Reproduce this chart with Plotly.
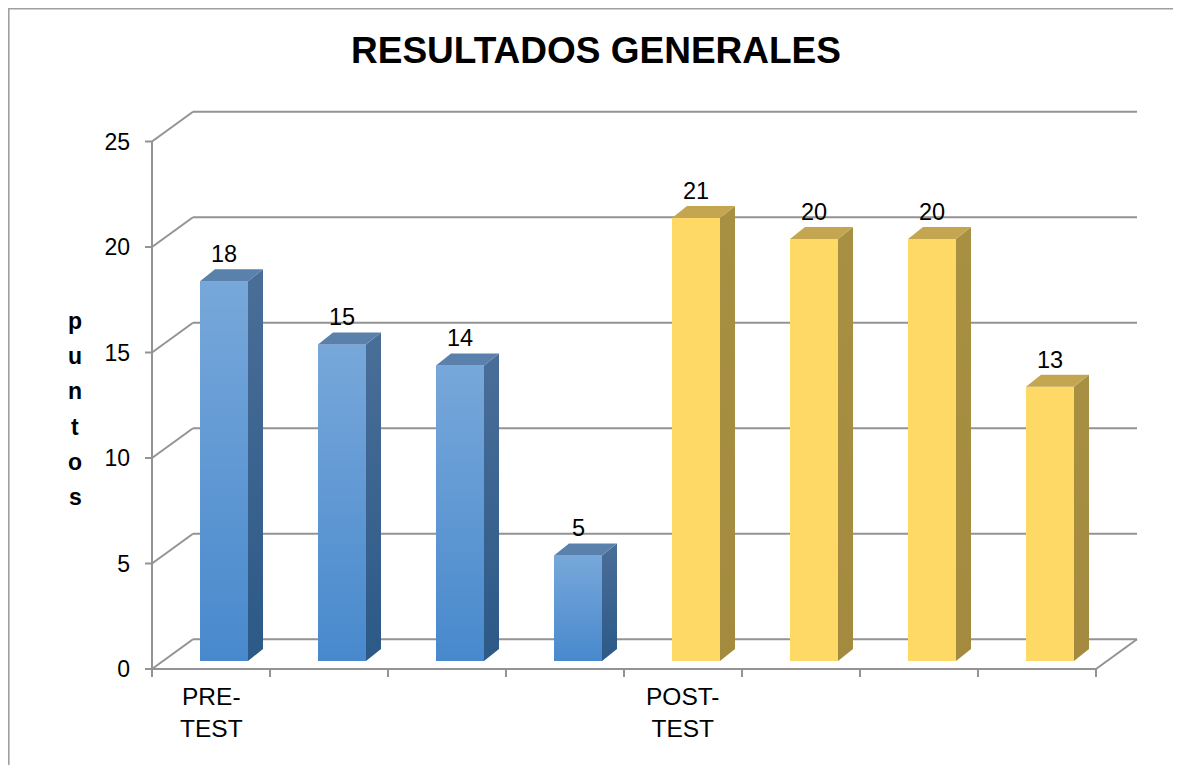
import plotly.graph_objects as go

# ---------------- data ----------------
group_labels = ["PRE-<br>TEST", "POST-<br>TEST"]
pre_values = [18, 15, 14, 5]
post_values = [21, 20, 20, 13]
y_ticks = [0, 5, 10, 15, 20, 25]
title_text = "RESULTADOS GENERALES"
y_title = "puntos"

values = pre_values + post_values
groups = [0] * len(pre_values) + [1] * len(post_values)
xs = list(range(len(values)))

# ---------------- styling / geometry ----------------
W, H = 1173, 757      # page adds an 8px body margin
OFF = 8
PL = 125              # left margin (figure px)
PX_X = 118.0          # pixels per category
PX_Y = 21.1           # pixels per point
BAR_W = 48 / PX_X
DEPTH_DX = 15 / PX_X
DEPTH_DY = 12 / PX_Y
FRONT_DX = -13 / PX_X
FRONT_DY = -8 / PX_Y
BACK_DX = 28 / PX_X
BACK_DY = 21.7 / PX_Y
FONT = "Arial, 'Liberation Sans', sans-serif"

front_col = ["#4889CD", "#FED966"]
front_grad = [
    [[0, "rgba(255,255,255,0)"], [1, "rgba(255,255,255,0.26)"]],
    [[0, "rgba(255,255,255,0)"], [1, "rgba(255,255,255,0.0)"]],
]
side_grad = [
    [[0, "#2C5987"], [1, "#4A6E98"]],
    [[0, "#A38A3E"], [1, "#A89043"]],
]
top_col = ["#5A80AC", "#C4A650"]
GRID = "#939393"

n = len(values)
fig = go.Figure()

# front faces (bars)
for g in (0, 1):
    idx = [i for i in xs if groups[i] == g]
    fig.add_trace(go.Bar(
        x=[xs[i] for i in idx], y=[values[i] for i in idx],
        width=BAR_W, marker=dict(color=front_col[g], line=dict(width=0)),
        hoverinfo="skip", showlegend=False,
    ))

# gradient overlays, side and top faces computed from the values
for i, v in enumerate(values):
    g = groups[i]
    xl = xs[i] - BAR_W / 2
    xr = xs[i] + BAR_W / 2
    fig.add_trace(go.Scatter(
        x=[xl, xr, xr, xl, xl], y=[0, 0, v, v, 0], mode="lines",
        line=dict(width=0), fill="toself",
        fillgradient=dict(type="vertical", colorscale=front_grad[g], start=0, stop=v),
        hoverinfo="skip", showlegend=False,
    ))
    fig.add_trace(go.Scatter(
        x=[xr, xr + DEPTH_DX, xr + DEPTH_DX, xr, xr],
        y=[0, DEPTH_DY, v + DEPTH_DY, v, 0], mode="lines",
        line=dict(width=0), fill="toself",
        fillgradient=dict(type="vertical", colorscale=side_grad[g], start=0, stop=v + DEPTH_DY),
        hoverinfo="skip", showlegend=False,
    ))
    fig.add_trace(go.Scatter(
        x=[xl, xr, xr + DEPTH_DX, xl + DEPTH_DX, xl],
        y=[v, v, v + DEPTH_DY, v + DEPTH_DY, v], mode="lines",
        line=dict(width=0), fill="toself", fillcolor=top_col[g],
        hoverinfo="skip", showlegend=False,
    ))

# ---------------- walls, gridlines, ticks ----------------
fl = -0.5 + FRONT_DX
fr = n - 0.5 + FRONT_DX
bl = -0.5 + BACK_DX
br = n - 0.5 + BACK_DX
shapes = []
for t in y_ticks:
    yf = t + FRONT_DY
    yb = t + BACK_DY
    shapes.append(dict(type="line", x0=bl, x1=br, y0=yb, y1=yb))
    shapes.append(dict(type="line", x0=fl, x1=bl, y0=yf, y1=yb))
    shapes.append(dict(type="line", x0=fl - 7 / PX_X, x1=fl, y0=yf, y1=yf))
shapes.append(dict(type="line", x0=fl, x1=fr, y0=FRONT_DY, y1=FRONT_DY))
shapes.append(dict(type="line", x0=fr, x1=br, y0=FRONT_DY, y1=BACK_DY))
shapes.append(dict(type="line", x0=fl, x1=fl, y0=FRONT_DY, y1=y_ticks[-1] + FRONT_DY))
for k in range(n + 1):
    xk = -0.5 + k + FRONT_DX
    shapes.append(dict(type="line", x0=xk, x1=xk, y0=FRONT_DY, y1=FRONT_DY - 8 / PX_Y))
for s in shapes:
    s.update(xref="x", yref="y", layer="below", line=dict(color=GRID, width=2))

PW = W - PL
shapes.append(dict(type="rect", xref="paper", yref="paper",
                   x0=(0.8 - PL) / PW, x1=1.05, y0=-0.05, y1=1 - 0.8 / H,
                   line=dict(color="#A0A0A0", width=1.6), layer="below"))

# ---------------- annotations ----------------
ann = []
for i, v in enumerate(values):
    ann.append(dict(x=xs[i], y=v + DEPTH_DY + 0.72, text=str(v), showarrow=False,
                    xanchor="center", yanchor="middle",
                    font=dict(family=FONT, size=23.5, color="#000000")))
for g, lab in enumerate(group_labels):
    first = groups.index(g)
    ann.append(dict(x=xs[first] + FRONT_DX, y=FRONT_DY - 12 / PX_Y, text=lab,
                    showarrow=False, xanchor="center", yanchor="top",
                    font=dict(family=FONT, size=24.5, color="#000000")))
for k, ch in enumerate(y_title):
    sy = 321 + 35.2 * k
    ann.append(dict(xref="paper", yref="paper", x=(75 - OFF - PL) / PW,
                    y=1 - (sy - OFF) / H, text="<b>%s</b>" % ch,
                    showarrow=False, xanchor="center", yanchor="middle",
                    font=dict(family=FONT, size=23, color="#000000")))

x0 = -(224 - OFF - PL) / PX_X
x1 = x0 + PW / PX_X
y1 = (661 - OFF) / PX_Y
y0 = y1 - H / PX_Y

fig.update_layout(
    width=W, height=H,
    margin=dict(l=PL, r=0, t=0, b=0),
    paper_bgcolor="white", plot_bgcolor="white",
    barmode="overlay", showlegend=False,
    title=dict(text="<b>%s</b>" % title_text, x=(596 - OFF) / W, y=1 - (50 - OFF) / H,
               xref="container", yref="container", xanchor="center", yanchor="middle",
               font=dict(family=FONT, size=37, color="#000000")),
    xaxis=dict(range=[x0, x1], visible=False, fixedrange=True),
    yaxis=dict(range=[y0, y1], showgrid=False, zeroline=False, showline=False,
               tickvals=[t + FRONT_DY for t in y_ticks], ticktext=[str(t) for t in y_ticks],
               ticks="", ticklabelstandoff=2,
               tickfont=dict(family=FONT, size=23, color="#000000"), fixedrange=True),
    shapes=shapes, annotations=ann,
)

fig.write_html("out.html")
